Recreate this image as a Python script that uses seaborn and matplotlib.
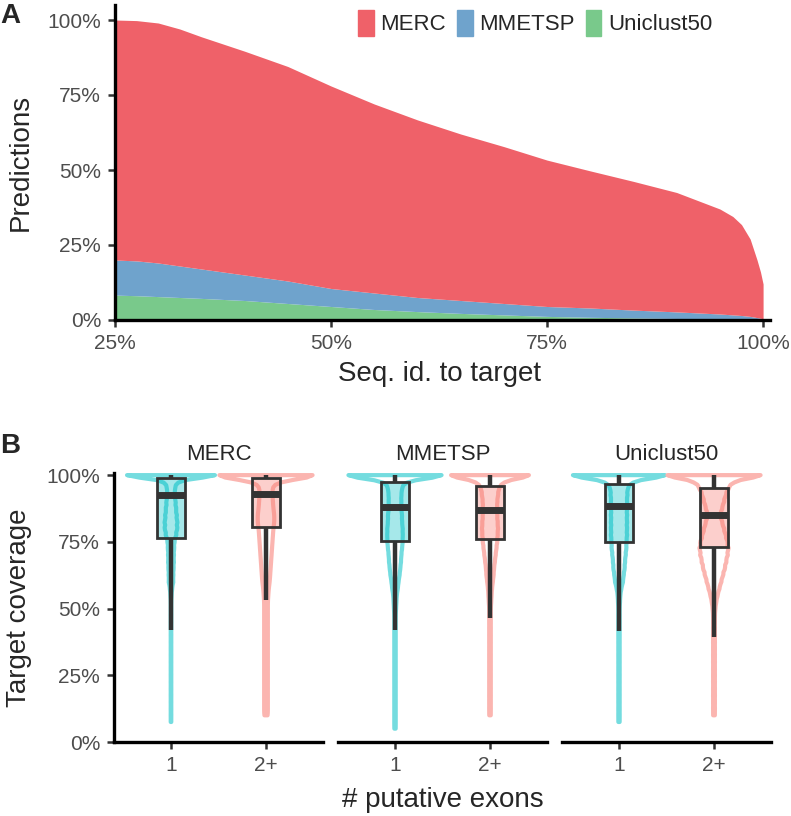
import numpy as np
import pandas as pd
import seaborn as sns
import matplotlib
matplotlib.use("Agg")
import matplotlib.pyplot as plt
from matplotlib.patches import Patch
from matplotlib.ticker import PercentFormatter

# ---------- panel A: predictions vs seq. id. (stacked shares) ----------
seq_id = [0.25, 0.275, 0.30, 0.325, 0.35, 0.40, 0.45, 0.50, 0.55, 0.60, 0.65, 0.70,
          0.75, 0.80, 0.85, 0.90, 0.95, 0.965, 0.975, 0.985, 0.993, 0.997, 1.00]
merc_share = [0.800, 0.801, 0.800, 0.790, 0.774, 0.746, 0.715, 0.675, 0.630, 0.592,
              0.555, 0.523, 0.488, 0.457, 0.429, 0.398, 0.350, 0.328, 0.303, 0.258,
              0.192, 0.154, 0.116]
mmetsp_share = [0.117, 0.116, 0.112, 0.105, 0.098, 0.085, 0.075, 0.060, 0.055, 0.047,
                0.043, 0.038, 0.033, 0.031, 0.026, 0.022, 0.017, 0.0145, 0.013, 0.0105,
                0.007, 0.0055, 0.004]
uniclust_share = [0.083, 0.081, 0.078, 0.075, 0.072, 0.065, 0.055, 0.045, 0.035, 0.028,
                  0.022, 0.017, 0.012, 0.009, 0.007, 0.005, 0.003, 0.0025, 0.002, 0.0015,
                  0.001, 0.0005, 0.0]

# ---------- panel B: target coverage per database / exon group ----------
databases = ["MERC", "MMETSP", "Uniclust50"]
exon_groups = ["1", "2+"]

# coverage bins and how many predictions fall in each
coverage_levels = [0.05, 0.075, 0.1, 0.125, 0.15, 0.175, 0.2, 0.225, 0.25, 0.275,
                   0.3, 0.325, 0.35, 0.375, 0.4, 0.425, 0.45, 0.475, 0.5, 0.525,
                   0.55, 0.575, 0.6, 0.625, 0.65, 0.675, 0.7, 0.725, 0.75, 0.775,
                   0.8, 0.825, 0.85, 0.875, 0.9, 0.925, 0.95, 0.975, 1.0]
merc_1 = [0, 1, 1, 1, 1, 1, 1, 1, 1, 1, 1, 1, 1, 1, 1, 1, 1, 1, 1, 1, 2,
          4, 8, 8, 9, 10, 10, 11, 12, 18, 22, 22, 20, 18, 16, 14, 14, 22, 165]
merc_2 = [0, 0, 4, 4, 4, 4, 4, 4, 4, 4, 4, 4, 4, 4, 4, 4, 4, 4, 4, 4, 5,
          6, 8, 9, 10, 11, 12, 13, 14, 15, 16, 18, 18, 16, 15, 14, 14, 18, 145]
mmetsp_1 = [2, 2, 2, 2, 2, 2, 2, 2, 2, 2, 2, 2, 2, 2, 2, 2, 2, 2, 3, 4, 5,
            8, 10, 13, 15, 17, 18, 20, 22, 22, 22, 20, 20, 18, 18, 18, 20, 26, 162]
mmetsp_2 = [0, 0, 2, 2, 2, 2, 2, 2, 2, 2, 2, 2, 2, 2, 2, 2, 2, 2, 2, 3, 4,
            5, 7, 9, 10, 12, 14, 16, 18, 19, 20, 19, 18, 18, 18, 20, 22, 32, 114]
uniclust_1 = [0, 2, 2, 2, 2, 2, 2, 2, 2, 2, 2, 2, 2, 2, 2, 2, 2, 2, 2, 3, 4,
              7, 12, 14, 17, 18, 20, 22, 23, 24, 24, 24, 24, 24, 24, 25, 26, 38, 159]
uniclust_2 = [0, 0, 2, 2, 2, 2, 2, 2, 2, 2, 2, 2, 2, 2, 2, 2, 2, 2, 3, 5, 8,
              12, 16, 20, 24, 27, 30, 32, 30, 26, 22, 18, 14, 18, 22, 26, 32, 42, 115]

# box summaries, order: MERC 1, MERC 2+, MMETSP 1, MMETSP 2+, Uniclust50 1, Uniclust50 2+
box_q1 = [0.763, 0.806, 0.753, 0.760, 0.750, 0.731]
box_med = [0.925, 0.929, 0.879, 0.869, 0.884, 0.850]
box_q3 = [0.990, 0.990, 0.973, 0.960, 0.965, 0.952]
whisker_lo = [0.420, 0.532, 0.420, 0.463, 0.417, 0.392]
whisker_hi = [1.0, 1.0, 1.0, 1.0, 1.0, 1.0]

counts = {("MERC", "1"): merc_1, ("MERC", "2+"): merc_2,
          ("MMETSP", "1"): mmetsp_1, ("MMETSP", "2+"): mmetsp_2,
          ("Uniclust50", "1"): uniclust_1, ("Uniclust50", "2+"): uniclust_2}
rows = []
for (db, grp), c in counts.items():
    vals = np.repeat(coverage_levels, c)
    rows.append(pd.DataFrame({"database": db, "exons": grp, "coverage": vals}))
cov_df = pd.concat(rows, ignore_index=True)

# ---------- style ----------
sns.set_theme(style="ticks")
plt.rcParams["font.family"] = ["Liberation Sans", "DejaVu Sans"]
plt.rcParams["axes.linewidth"] = 2.4
plt.rcParams["axes.edgecolor"] = "black"

red, blue, green = "#EF6169", "#6FA3CC", "#79C98B"
cyan_line, pink_line = "#74DCDF", "#FBB5B0"
cyan, pink = "#00BFC4", "#F8766D"
tick_grey = "#4D4D4D"

W, H = 791, 816
fig = plt.figure(figsize=(W / 100, H / 100), dpi=100)


def style_ticks(ax):
    ax.tick_params(length=5, width=1.8, color="#333333", labelsize=15,
                   labelcolor=tick_grey, pad=5)


# panel A
ax_a = fig.add_axes([115 / W, 1 - 320 / H, 655 / W, 315 / H])
ax_a.stackplot(seq_id, uniclust_share, mmetsp_share, merc_share,
               colors=[green, blue, red], linewidth=0)
ax_a.set_xlim(0.25, 1.008)
ax_a.set_ylim(0, 1.05)
ax_a.set_xticks([0.25, 0.5, 0.75, 1.0])
ax_a.set_yticks([0, 0.25, 0.5, 0.75, 1.0])
ax_a.xaxis.set_major_formatter(PercentFormatter(1.0, decimals=0))
ax_a.yaxis.set_major_formatter(PercentFormatter(1.0, decimals=0))
sns.despine(ax=ax_a)
style_ticks(ax_a)
ax_a.set_ylabel("Predictions", fontsize=20, labelpad=10)
ax_a.set_xlabel("")
fig.text(439 / W, 1 - 381 / H, "Seq. id. to target", fontsize=20,
         ha="center", va="baseline")

handles = [Patch(color=red), Patch(color=blue), Patch(color=green)]
ax_a.legend(handles, ["MERC", "MMETSP", "Uniclust50"], ncol=3, frameon=False,
            loc="center left", bbox_to_anchor=(358 / W, 1 - 23 / H),
            bbox_transform=fig.transFigure, fontsize=16, handlelength=0.7,
            handleheight=1.4, handletextpad=0.3, columnspacing=0.5,
            borderpad=0, borderaxespad=0)

# panel B
for i, db in enumerate(databases):
    ax = fig.add_axes([(114 + 224 * i) / W, 74 / H, 209 / W, 269 / H])
    sub = cov_df[cov_df["database"] == db]
    sns.violinplot(data=sub, x="exons", y="coverage", hue="exons",
                   order=exon_groups, hue_order=exon_groups,
                   palette=[cyan_line, pink_line], fill=False, inner=None,
                   cut=0, bw_method=0.06, density_norm="count",
                   common_norm=True, width=0.98, linewidth=3.0,
                   legend=False, ax=ax)
    for coll in ax.collections:
        coll.set_joinstyle("round")
        coll.set_capstyle("round")

    stats = []
    for j in range(2):
        k = 2 * i + j
        stats.append({"med": box_med[k], "q1": box_q1[k], "q3": box_q3[k],
                      "whislo": whisker_lo[k], "whishi": whisker_hi[k],
                      "fliers": []})
    bp = ax.bxp(stats, positions=[0, 1], widths=0.29, patch_artist=True,
                showfliers=False, showcaps=False,
                boxprops=dict(edgecolor="#333333", linewidth=2.0),
                medianprops=dict(color="#333333", linewidth=5),
                whiskerprops=dict(color="#333333", linewidth=3.2,
                                  solid_capstyle="butt"))
    for patch, col in zip(bp["boxes"], [cyan, pink]):
        patch.set_facecolor(matplotlib.colors.to_rgba(col, 0.35))

    ax.set_xlim(-0.6, 1.6)
    ax.set_ylim(0, 1.008)
    ax.set_xlabel("")
    ax.set_xticks([0, 1])
    ax.set_xticklabels(exon_groups)
    ax.set_title(db, fontsize=16, pad=9)
    style_ticks(ax)
    if i == 0:
        ax.set_yticks([0, 0.25, 0.5, 0.75, 1.0])
        ax.yaxis.set_major_formatter(PercentFormatter(1.0, decimals=0))
        ax.set_ylabel("Target coverage", fontsize=20, labelpad=10)
        sns.despine(ax=ax)
    else:
        ax.set_ylabel("")
        ax.tick_params(left=False, labelleft=False)
        sns.despine(ax=ax, left=True)

fig.text(443 / W, 1 - 807 / H, "# putative exons", fontsize=20,
         ha="center", va="baseline")
fig.text(0.0, 1 - 23 / H, "A", fontsize=20, fontweight="bold", va="baseline")
fig.text(0.0, 1 - 453 / H, "B", fontsize=20, fontweight="bold", va="baseline")

fig.savefig("out.png", dpi=100)
